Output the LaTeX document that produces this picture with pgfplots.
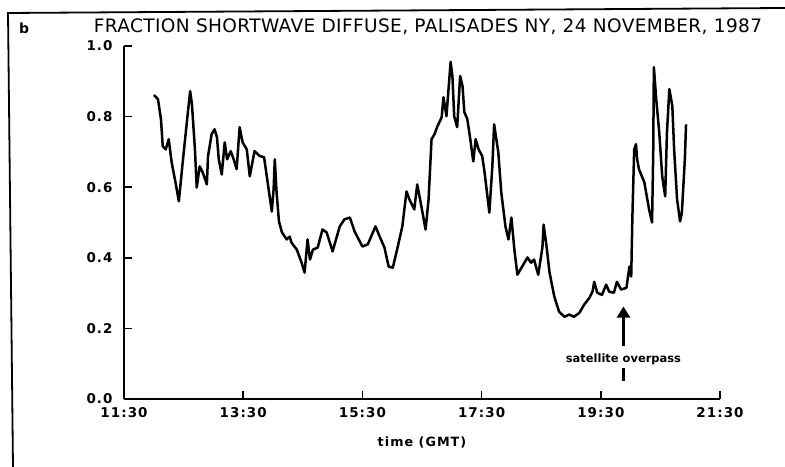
\documentclass[border=0pt]{standalone}
\usepackage{fontspec}
\setmainfont{DejaVu Sans}
\newfontfamily\tickfont{DejaVu Sans}[LetterSpace=8]
\newfontfamily\titlefont{DejaVu Sans}[LetterSpace=2]
\usepackage{pgfplots}
\pgfplotsset{compat=1.18}
\usetikzlibrary{arrows.meta}
\begin{document}
\begin{tikzpicture}[x=1bp,y=1bp]
\useasboundingbox (0,0) rectangle (785,467);
\fill[white] (0,0) rectangle (785,467);
% frame
\draw[line width=1.8bp] (13,0) -- (8,454) -- (785,459);
\node[font=\bfseries\fontsize{14}{16}\selectfont] at (24,439) {b};
\node[font=\titlefont\fontsize{18.6}{20}\selectfont] at (428,440) {FRACTION SHORTWAVE DIFFUSE, PALISADES NY, 24 NOVEMBER, 1987};
\node[font=\tickfont\bfseries\fontsize{12.8}{14}\selectfont] at (422,24) {time (GMT)};
\begin{axis}[
  at={(124bp,68bp)}, anchor=south west,
  scale only axis, width=596bp, height=353bp,
  xmin=11.5, xmax=21.5, ymin=0, ymax=1.0,
  axis x line=bottom, axis y line=left,
  axis line style={-, line width=2bp},
  tick align=inside, major tick length=8bp,
  every tick/.style={black, line width=1.7bp},
  xtick={11.5,13.5,15.5,17.5,19.5,21.5},
  xticklabels={\mbox{11:30},\mbox{13:30},\mbox{15:30},\mbox{17:30},\mbox{19:30},\mbox{21:30}},
  ytick={0,0.2,0.4,0.6,0.8,1.0},
  yticklabels={\mbox{0.0},\mbox{0.2},\mbox{0.4},\mbox{0.6},\mbox{0.8},\mbox{1.0}},
  ticklabel style={font=\tickfont\bfseries\fontsize{13.5}{15}\selectfont},
  yticklabel style={xshift=-8bp},
  xticklabel style={yshift=-5bp},
  clip=false,
]
\addplot[black, line width=2.5bp, line join=round] table {
t v
12.00 0.861
12.04 0.855
12.07 0.849
12.12 0.793
12.15 0.716
12.20 0.707
12.25 0.736
12.30 0.670
12.37 0.608
12.42 0.560
12.49 0.679
12.56 0.793
12.61 0.872
12.64 0.835
12.69 0.707
12.72 0.599
12.77 0.659
12.82 0.642
12.89 0.608
12.91 0.688
12.97 0.750
13.02 0.764
13.06 0.741
13.09 0.679
13.14 0.636
13.19 0.727
13.23 0.679
13.29 0.702
13.34 0.679
13.39 0.651
13.44 0.770
13.49 0.727
13.56 0.707
13.61 0.631
13.69 0.702
13.78 0.688
13.85 0.685
13.91 0.614
13.98 0.531
14.01 0.594
14.03 0.679
14.06 0.585
14.10 0.503
14.15 0.472
14.23 0.452
14.28 0.460
14.31 0.443
14.40 0.423
14.48 0.386
14.53 0.358
14.58 0.452
14.62 0.395
14.67 0.423
14.75 0.429
14.83 0.480
14.90 0.472
15.00 0.418
15.12 0.489
15.20 0.509
15.29 0.514
15.37 0.474
15.50 0.432
15.59 0.438
15.72 0.489
15.79 0.460
15.87 0.429
15.94 0.375
16.01 0.372
16.09 0.429
16.17 0.489
16.24 0.588
16.29 0.565
16.37 0.537
16.42 0.608
16.49 0.545
16.56 0.480
16.61 0.565
16.66 0.736
16.71 0.750
16.76 0.773
16.83 0.798
16.86 0.855
16.91 0.801
16.98 0.955
17.01 0.915
17.04 0.801
17.09 0.770
17.14 0.915
17.18 0.886
17.21 0.813
17.26 0.793
17.31 0.736
17.36 0.673
17.40 0.736
17.45 0.707
17.51 0.688
17.55 0.642
17.63 0.528
17.68 0.659
17.71 0.778
17.78 0.699
17.83 0.585
17.90 0.489
17.95 0.452
18.00 0.514
18.05 0.423
18.10 0.352
18.18 0.375
18.27 0.401
18.33 0.386
18.38 0.395
18.45 0.352
18.52 0.429
18.54 0.494
18.59 0.432
18.64 0.358
18.72 0.290
18.80 0.247
18.89 0.233
18.97 0.239
19.05 0.233
19.14 0.244
19.22 0.267
19.31 0.287
19.36 0.304
19.39 0.332
19.44 0.301
19.52 0.295
19.59 0.324
19.64 0.304
19.72 0.301
19.77 0.332
19.84 0.310
19.93 0.315
19.98 0.375
20.01 0.347
20.03 0.517
20.06 0.707
20.09 0.722
20.11 0.679
20.14 0.651
20.23 0.614
20.31 0.537
20.36 0.500
20.38 0.707
20.39 0.940
20.43 0.849
20.48 0.756
20.53 0.631
20.58 0.574
20.61 0.756
20.65 0.878
20.70 0.830
20.73 0.707
20.78 0.565
20.83 0.503
20.86 0.528
20.91 0.679
20.93 0.778
};
\draw[-{Triangle[width=13bp,length=11bp]}, line width=2.4bp] (axis cs:19.88,0.150) -- (axis cs:19.88,0.262);
\node[font=\bfseries\fontsize{11.5}{13}\selectfont] at (axis cs:19.88,0.113) {satellite overpass};
\draw[line width=2.4bp] (axis cs:19.88,0.088) -- (axis cs:19.88,0.050);
\end{axis}
\end{tikzpicture}
\end{document}
